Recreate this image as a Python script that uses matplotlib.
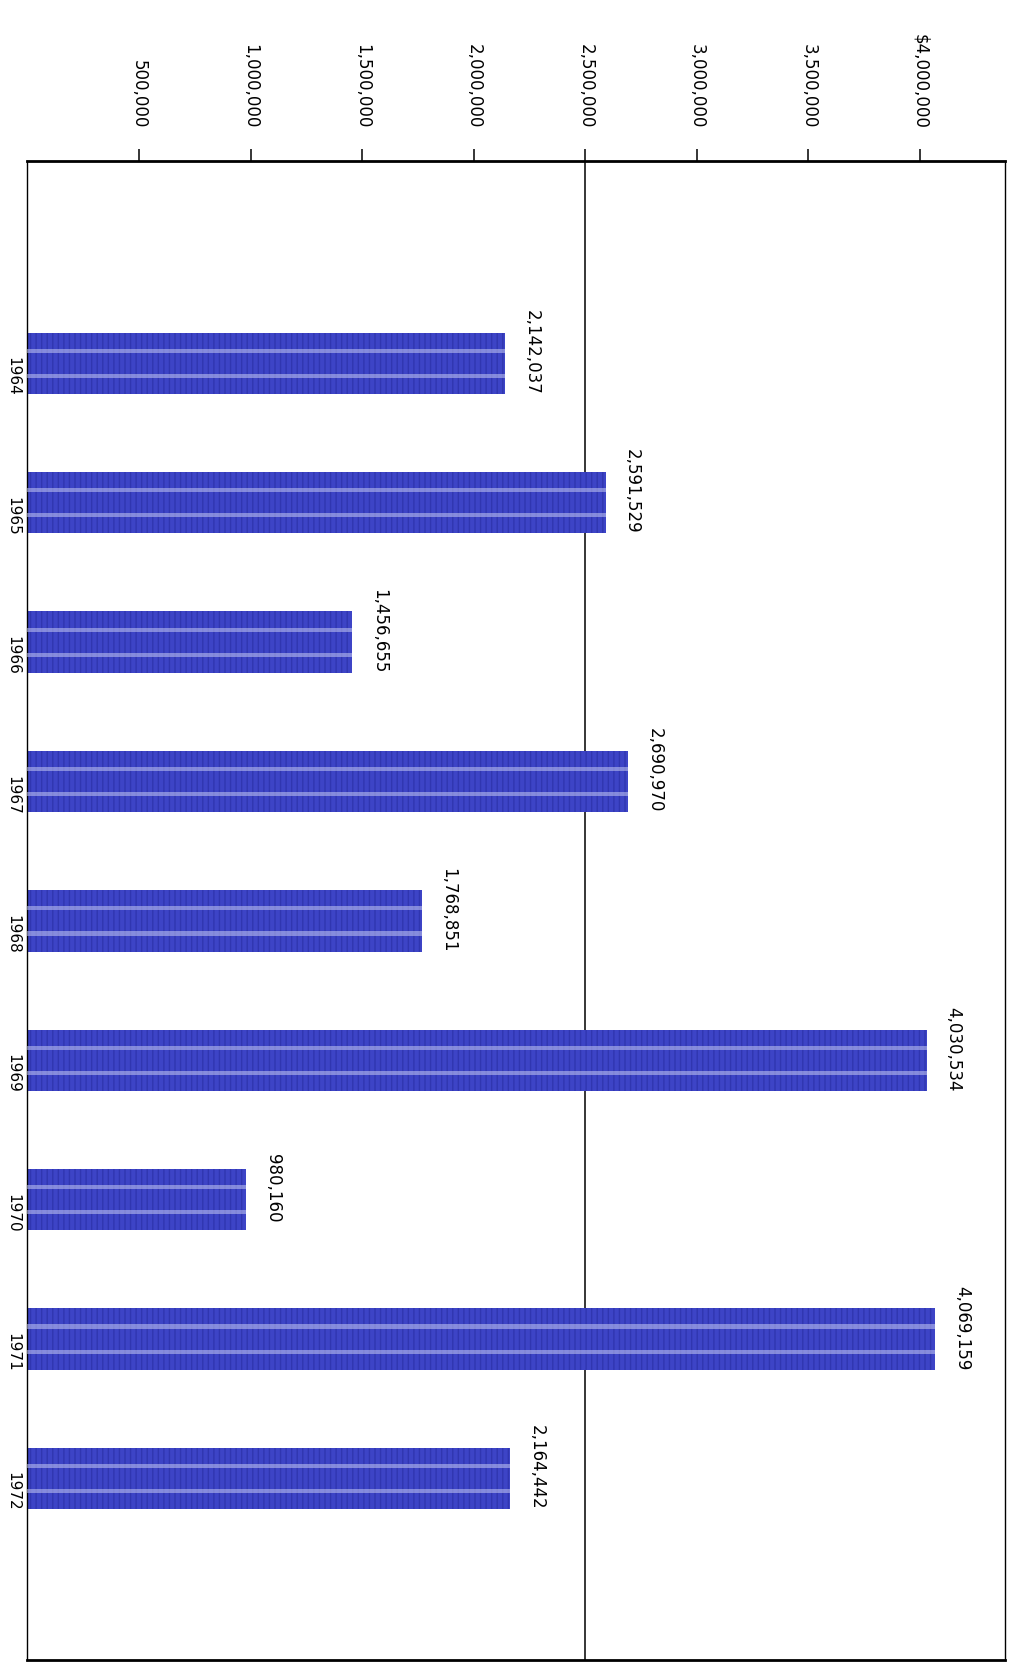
import matplotlib.pyplot as plt
import numpy as np

years = ['1964', '1965', '1966', '1967', '1968', '1969', '1970', '1971', '1972']
amounts = [2142037, 2591529, 1456655, 2690970, 1768851, 4030534, 980160, 4069159, 2164442]
tick_values = [500000, 1000000, 1500000, 2000000, 2500000, 3000000, 3500000, 4000000]
tick_labels = ['500,000', '1,000,000', '1,500,000', '2,000,000', '2,500,000',
               '3,000,000', '3,500,000', '$4,000,000']

plt.rcParams['font.family'] = ['DejaVu Sans']

fig = plt.figure(figsize=(10.16, 16.73), dpi=100)
ax = fig.add_axes([0.027, 0.008, 0.962, 0.896])

pos = np.arange(len(years))

# main bars, with a vertical hatch to mimic the printed texture
ax.barh(pos, amounts, height=0.44, color='#3d44c6', edgecolor='#3036b0',
        hatch='|||', linewidth=0, zorder=2)
# two pale streaks running along each bar
for off in (-0.09, 0.09):
    ax.barh(pos + off, amounts, height=0.03, color='#c4c8f2', alpha=0.55,
            linewidth=0, zorder=3)

# value labels at the end of each bar
for i, v in enumerate(amounts):
    ax.annotate(f'{v:,}', (v, i), xytext=(19, 8), textcoords='offset points',
                rotation=270, ha='center', va='center', fontsize=12)

ax.axvline(2500000, color='black', lw=1.1, zorder=1)

ax.set_xlim(0, 4380000)
ax.set_ylim(len(years) - 1 + 1.30, -1.455)

ax.xaxis.tick_top()
ax.set_xticks(tick_values)
ax.set_xticklabels(tick_labels, rotation=270, fontsize=12)
ax.tick_params(axis='x', direction='out', length=9, width=1.1, pad=14)

ax.set_yticks(pos)
ax.set_yticklabels(years, rotation=270, fontsize=11)
ax.tick_params(axis='y', length=0, pad=5)

for side in ('top', 'bottom'):
    ax.spines[side].set_linewidth(2)
for side in ('left', 'right'):
    ax.spines[side].set_linewidth(1)

fig.savefig('out.png', dpi=100)
